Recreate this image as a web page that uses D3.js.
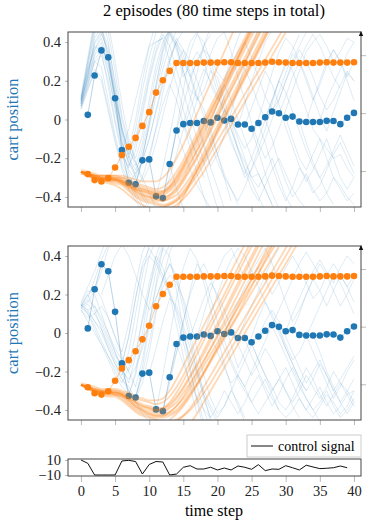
<!DOCTYPE html>
<html>
<head>
<meta charset="utf-8">
<script src="https://cdn.jsdelivr.net/npm/d3@7"></script>
<style>
body { margin: 0; background: #fff; }
svg, svg text { font-family: "Liberation Serif", "DejaVu Serif", serif; }
</style>
</head>
<body>
<script>
// observed cart positions (time steps 1..40)
const obsSteps = d3.range(1, 41);
const cartEp1 = [0.024, 0.227, 0.357, 0.321, 0.110, -0.158, -0.327, -0.335, -0.211, -0.206,
    -0.397, -0.406, -0.230, -0.057, -0.024, -0.018, -0.018, -0.008, -0.015, 0.009,
    -0.005, 0.003, -0.026, -0.026, -0.048, -0.018, 0.012, 0.041, 0.032, 0.009,
    0.015, -0.010, -0.013, -0.013, -0.013, -0.007, -0.008, -0.024, 0.009, 0.034];
const cartEp2 = [-0.282, -0.313, -0.320, -0.303, -0.248, -0.184, -0.141, -0.095, -0.033, 0.038,
    0.139, 0.203, 0.251, 0.292, 0.292, 0.292, 0.292, 0.294, 0.294, 0.294,
    0.296, 0.296, 0.292, 0.292, 0.292, 0.292, 0.294, 0.298, 0.296, 0.294,
    0.292, 0.292, 0.292, 0.292, 0.294, 0.296, 0.294, 0.294, 0.294, 0.296];

// control signal (time steps 0..39)
const controlSteps = d3.range(0, 40);
const controlSignal = [10, 5.6, -10, -10, -10, -10, 8.7, 9.5, 8, -8.7,
    4, 8, 7.3, -10, -8.7, 0.3, 2.4, -2, -2, 0.3,
    -3.3, -0.7, -3.3, 2, 0.3, -2.4, 3.8, -4.2, -2, -2.4,
    2.4, -0.3, -3.3, 3, 0.7, -1.5, -1, -0.3, 2, -0.3];

const xTicks = [0, 5, 10, 15, 20, 25, 30, 35, 40];
const yTicks = [-0.4, -0.2, 0, 0.2, 0.4];
const rightTicks = [-1, 0, 1];
const controlTicks = [-10, 10];

// predicted rollouts: [start step, values...]
const top1Blue = [
    [0, [0.06,0.18,0.30,0.27,0.10,-0.08,-0.22,-0.30,-0.38,-0.44,-0.5]],
    [0, [0.08,0.24,0.38,0.35,0.17,-0.02,-0.18,-0.25,-0.12,0.05,0.22,0.36,0.46,0.5]],
    [0, [0.10,0.28,0.46,0.50,0.32,0.12,-0.08,-0.20,-0.05,0.15,0.32,0.45,0.55]],
    [0, [0.07,0.20,0.34,0.40,0.25,0.05,-0.14,-0.28,-0.36,-0.30,-0.18,-0.05,0.08,0.18,0.1,-0.02,-0.15,-0.28,-0.4,-0.5]],
    [0, [0.12,0.32,0.52,0.55,0.40,0.18,-0.05,-0.18,-0.10,0.08,0.25,0.40,0.42,0.30,0.18,0.05,-0.08,-0.2,-0.3]],
    [0, [0.05,0.15,0.26,0.22,0.06,-0.10,-0.24,-0.33,-0.28,-0.15,0.0,0.18,0.35,0.45,0.38,0.25,0.15,0.12,0.05,-0.05,-0.18,-0.3,-0.42]],
    [0, [0.09,0.22,0.42,0.48,0.30,0.08,-0.12,-0.22,-0.30,-0.20,-0.02,0.16,0.30,0.44,0.36,0.22,0.28,0.35,0.30,0.18,0.1,0.2,0.32,0.42,0.5]],
    [0, [0.11,0.26,0.36,0.44,0.36,0.15,-0.06,-0.16,0.0,0.2,0.38,0.5]],
    [0, [0.07,0.17,0.30,0.33,0.20,0.0,-0.16,-0.26,-0.32,-0.40,-0.46]],
    [0, [0.10,0.30,0.48,0.52,0.45,0.25,0.02,-0.12,-0.20,-0.08,0.10,0.28,0.40,0.46,0.40,0.3,0.22,0.3,0.38,0.44]],
    [0, [0.08,0.21,0.33,0.38,0.28,0.10,-0.10,-0.24,-0.16,0.02,0.20,0.34,0.44,0.38,0.26,0.14,0.02,-0.1,-0.22,-0.34,-0.46]],
    [0, [0.09,0.27,0.44,0.58,0.50,0.30,0.08,-0.10,-0.22,-0.32,-0.24,-0.12,0.02,0.16,0.28,0.36,0.30,0.2,0.1]],
    [0, [0.06,0.16,0.24,0.20,0.04,-0.12,-0.26,-0.36,-0.42,-0.48]],
    [0, [0.11,0.30,0.50,0.60]],
    [0, [0.08,0.22,0.36,0.42,0.30,0.12,-0.06,-0.20,-0.26,-0.18,-0.04,0.12,0.26,0.38,0.46]],
    [0, [0.10,0.25,0.40,0.46,0.38,0.20,0.00,-0.14,-0.24,-0.12,0.06,0.24,0.38,0.48]],
    [0, [0.07,0.19,0.31,0.36,0.24,0.06,-0.12,-0.22,-0.28,-0.22,-0.10,0.04,0.18,0.30,0.40,0.46]],
    [0, [0.09,0.23,0.39,0.45,0.34,0.14,-0.04,-0.16,-0.22,-0.30,-0.38,-0.46]],
    [5, [0.11,-0.04,-0.18,-0.30,-0.38,-0.44]],
    [6, [-0.16,-0.05,0.10,0.25,0.38,0.40,0.42,0.45,0.38,0.25,0.12,0.0,-0.12,-0.25,-0.35,-0.46]],
    [7, [-0.327,-0.40,-0.46]],
    [8, [-0.335,-0.20,-0.02,0.18,0.36,0.46]],
    [9, [-0.21,-0.10,0.05,0.20,0.32,0.40,0.33,0.22,0.10,0.15,0.25,0.22,0.10,-0.02,-0.15,-0.25,-0.32,-0.40,-0.47]],
    [10, [-0.21,-0.04,0.14,0.30,0.42,0.36,0.24,0.12,0.02,-0.08,-0.18,-0.28,-0.36,-0.44]],
    [11, [-0.40,-0.25,-0.08,0.10,0.28,0.40,0.45,0.36,0.26,0.14,0.02,-0.1,-0.2,-0.3,-0.26,-0.18,-0.1,0.0,0.1,0.2,0.28,0.36,0.3,0.22,0.12,0.05,0.1,0.18,0.25,0.2]],
    [12, [-0.40,-0.30,-0.18,-0.05,0.05,0.16,0.26,0.20,0.12,0.05,-0.05,-0.16,-0.26,-0.36,-0.42,-0.34,-0.26,-0.2,-0.28,-0.36,-0.42,-0.46]],
    [13, [-0.23,-0.05,0.15,0.35,0.44,0.40,0.30,0.18,0.06,-0.05,-0.15,-0.22,-0.30,-0.28,-0.36,-0.44,-0.5]],
    [13, [-0.23,-0.36,-0.46]],
    [14, [-0.06,0.08,0.20,0.30,0.36,0.32,0.24,0.20,0.28,0.35,0.40,0.32,0.22,0.12,0.05,0.10,0.2,0.3,0.38,0.45]],
    [14, [-0.06,-0.16,-0.26,-0.34,-0.40,-0.46]],
    [15, [-0.02,-0.10,-0.18,-0.22,-0.15,-0.05,0.05,0.0,-0.1,-0.2,-0.3,-0.35,-0.28,-0.2,-0.3,-0.4,-0.46]],
    [15, [-0.02,0.10,0.24,0.38,0.48]],
    [16, [-0.02,0.10,0.22,0.34,0.42,0.45,0.35,0.22,0.10,-0.02,-0.12,-0.2,-0.14,-0.05,0.05,0.15,0.25,0.35,0.4,0.44,0.38,0.3,0.35,0.42,0.40]],
    [17, [-0.02,-0.14,-0.24,-0.18,-0.08,0.04,0.16,0.28,0.38,0.46]],
    [18, [-0.01,-0.12,-0.22,-0.30,-0.36,-0.42,-0.35,-0.25,-0.15,-0.05,0.08,0.2,0.3,0.25,0.15,0.05,-0.05,-0.1,-0.15,-0.2,-0.18,-0.25,-0.3]],
    [19, [-0.02,0.08,0.18,0.10,0.0,-0.10,-0.20,-0.28,-0.36,-0.44]],
    [20, [0.01,0.12,0.22,0.30,0.26,0.18,0.08,0.0,-0.10,-0.22,-0.32,-0.40,-0.35,-0.28,-0.36,-0.42,-0.38,-0.3,-0.34,-0.4,-0.44]],
    [21, [-0.01,-0.12,-0.20,-0.28,-0.20,-0.10,0.0,0.10,0.20,0.28,0.36,0.44]],
    [22, [0.0,-0.08,-0.15,-0.10,0.0,0.12,0.24,0.35,0.42,0.38,0.3,0.2,0.1,0.18,0.28,0.36,0.3,0.22,0.3]],
    [23, [-0.03,0.08,0.20,0.30,0.40,0.46]],
    [24, [-0.03,0.06,0.16,0.25,0.18,0.08,-0.04,-0.14,-0.24,-0.32,-0.26,-0.18,-0.1,-0.2,-0.3,-0.36,-0.3]],
    [25, [-0.05,-0.16,-0.28,-0.38,-0.46]],
    [26, [-0.02,-0.12,-0.24,-0.34,-0.42,-0.35,-0.25,-0.3,-0.38,-0.34,-0.26,-0.18,-0.12,-0.2,-0.28]],
    [27, [0.01,0.10,0.20,0.14,0.04,-0.06,-0.16,-0.24,-0.30,-0.38,-0.44]],
    [28, [0.04,0.14,0.24,0.34,0.30,0.22,0.12,0.02,-0.06,0.04,0.14,0.24,0.2]],
    [29, [0.03,0.12,0.22,0.30,0.38,0.44,0.38,0.30,0.22,0.16]],
    [30, [0.01,-0.1,-0.2,-0.26,-0.18,-0.1,-0.2,-0.3,-0.36,-0.42,-0.38]],
    [32, [-0.01,-0.12,-0.22,-0.30,-0.24,-0.16,-0.08,-0.16,-0.24]],
    [33, [-0.01,0.1,0.2,0.3,0.36,0.3,0.2,0.1]],
    [35, [-0.01,0.10,0.18,0.26,0.34,0.40]]
];

const top1Orange = [
    [0, [-0.27,-0.28,-0.29,-0.30,-0.30,-0.30,-0.31,-0.33,-0.35,-0.36,-0.37,-0.38,-0.38,-0.36,-0.32,-0.26,-0.20,-0.13,-0.06,0.01,0.08,0.15,0.22,0.29,0.36,0.43,0.50]],
    [0, [-0.27,-0.28,-0.30,-0.31,-0.31,-0.31,-0.32,-0.34,-0.36,-0.38,-0.39,-0.40,-0.40,-0.39,-0.36,-0.31,-0.25,-0.19,-0.12,-0.05,0.02,0.09,0.16,0.23,0.30,0.37,0.44,0.51]],
    [0, [-0.27,-0.28,-0.29,-0.29,-0.29,-0.29,-0.30,-0.31,-0.33,-0.34,-0.35,-0.36,-0.35,-0.32,-0.27,-0.21,-0.14,-0.07,0.00,0.07,0.14,0.21,0.28,0.35,0.42,0.49]],
    [0, [-0.27,-0.29,-0.30,-0.31,-0.32,-0.32,-0.33,-0.36,-0.39,-0.41,-0.42,-0.43,-0.44,-0.43,-0.41,-0.37,-0.32,-0.26,-0.20,-0.13,-0.06,0.01,0.08,0.15,0.22,0.29,0.36,0.43,0.50]],
    [0, [-0.27,-0.28,-0.29,-0.30,-0.30,-0.31,-0.32,-0.34,-0.36,-0.37,-0.38,-0.39,-0.39,-0.37,-0.33,-0.28,-0.22,-0.16,-0.10,-0.03,0.04,0.11,0.18,0.25,0.32,0.39,0.46]],
    [0, [-0.26,-0.27,-0.28,-0.29,-0.29,-0.30,-0.30,-0.32,-0.34,-0.35,-0.36,-0.37,-0.37,-0.35,-0.31,-0.25,-0.18,-0.11,-0.04,0.03,0.10,0.17,0.24,0.31,0.38,0.45]],
    [0, [-0.27,-0.28,-0.30,-0.30,-0.31,-0.31,-0.33,-0.35,-0.37,-0.39,-0.40,-0.41,-0.42,-0.41,-0.39,-0.35,-0.30,-0.24,-0.17,-0.10,-0.03,0.04,0.11,0.18,0.25,0.32,0.39,0.46]],
    [0, [-0.28,-0.29,-0.30,-0.31,-0.31,-0.31,-0.32,-0.34,-0.37,-0.39,-0.40,-0.41,-0.41,-0.39,-0.35,-0.30,-0.23,-0.16,-0.08,0.00,0.08,0.16,0.24,0.32,0.40,0.48]],
    [0, [-0.27,-0.29,-0.31,-0.32,-0.33,-0.34,-0.36,-0.39,-0.42,-0.44,-0.46,-0.47,-0.47,-0.46,-0.44,-0.41,-0.37,-0.32,-0.27,-0.21,-0.15,-0.09,-0.03,0.03,0.09,0.15,0.21,0.27,0.33,0.39,0.45]],
    [0, [-0.27,-0.28,-0.29,-0.29,-0.29,-0.29,-0.29,-0.30,-0.31,-0.32,-0.32,-0.32,-0.30,-0.26,-0.20,-0.13,-0.05,0.03,0.11,0.19,0.27,0.35,0.43,0.51]],
    [0, [-0.27,-0.28,-0.29,-0.30,-0.31,-0.31,-0.32,-0.34,-0.36,-0.37,-0.38,-0.39,-0.38,-0.35,-0.30,-0.24,-0.17,-0.10,-0.03,0.04,0.11,0.18,0.25,0.32,0.39,0.46]],
    [0, [-0.27,-0.28,-0.30,-0.31,-0.32,-0.33,-0.34,-0.37,-0.40,-0.42,-0.43,-0.44,-0.45,-0.44,-0.42,-0.39,-0.34,-0.29,-0.23,-0.17,-0.11,-0.05,0.01,0.07,0.13,0.19,0.25,0.31,0.37,0.43,0.49]],
    [0, [-0.27,-0.28,-0.29,-0.30,-0.30,-0.30,-0.31,-0.33,-0.35,-0.36,-0.37,-0.38,-0.37,-0.34,-0.29,-0.23,-0.16,-0.09,-0.02,0.05,0.12,0.19,0.26,0.33,0.40,0.47]],
    [0, [-0.28,-0.29,-0.30,-0.31,-0.31,-0.32,-0.33,-0.35,-0.38,-0.40,-0.41,-0.42,-0.42,-0.40,-0.37,-0.32,-0.26,-0.20,-0.13,-0.06,0.01,0.08,0.15,0.22,0.29,0.36,0.43,0.50]],
    [12, [-0.45,-0.44,-0.42,-0.38,-0.33,-0.27,-0.21,-0.14,-0.07,0.0,0.07,0.14,0.21,0.28,0.35,0.42,0.49]],
    [14, [-0.46,-0.40,-0.33,-0.26,-0.19,-0.12,-0.05,0.02,0.09,0.16,0.23,0.30,0.37,0.44,0.51]]
];

const top2Blue = [
    [0, [0.14,0.20,0.12,0.02,-0.08,-0.16,-0.22,-0.10,0.10,0.30,0.46]],
    [0, [0.13,0.10,0.04,-0.04,-0.12,-0.20,-0.26,-0.18,0.00,0.22,0.40,0.48]],
    [0, [0.15,0.22,0.20,0.10,0.00,-0.10,-0.20,-0.30,-0.36,-0.40,-0.44,-0.48]],
    [0, [0.12,0.06,0.00,-0.06,-0.14,-0.22,-0.28,-0.32,-0.22,-0.05,0.15,0.32,0.44,0.40,0.22,0.02,-0.18,-0.36,-0.5]],
    [0, [0.16,0.24,0.32,0.42,0.5]],
    [0, [0.14,0.18,0.28,0.38,0.46]],
    [0, [0.14,0.16,0.22,0.32,0.44,0.5]],
    [0, [0.13,0.15,0.10,0.04,-0.04,-0.12,-0.16,-0.02,0.18,0.36,0.44,0.38,0.30,0.22,0.10,-0.05,-0.2,-0.34,-0.46]],
    [0, [0.12,0.08,0.10,0.14,0.08,-0.02,-0.12,-0.20,-0.28,-0.14,0.06,0.24,0.38,0.46]],
    [0, [0.15,0.12,0.06,0.02,-0.06,-0.14,-0.20,-0.24,-0.18,-0.08,0.05,0.18,0.28,0.36,0.28,0.12,-0.04,-0.2,-0.34,-0.44]],
    [0, [0.14,0.20,0.24,0.18,0.08,-0.02,-0.10,0.05,0.25,0.42,0.5]],
    [0, [0.13,0.17,0.14,0.06,-0.02,-0.10,-0.18,-0.26,-0.12,0.08,0.26,0.40,0.34,0.20,0.04,-0.12,-0.28,-0.42]],
    [0, [0.15,0.10,0.02,-0.06,-0.12,-0.18,-0.24,-0.28,-0.34,-0.26,-0.10,0.10,0.28,0.42,0.5]],
    [0, [0.13,0.11,0.06,0.0,-0.08,-0.16,-0.24,-0.30,-0.36,-0.42,-0.46]],
    [0, [0.14,0.12,0.14,0.08,0.0,-0.08,-0.14,-0.20,-0.10,0.06,0.22,0.36,0.46]],
    [3, [0.2,0.30,0.40,0.46,0.40,0.30,0.2,0.12,0.18,0.28,0.36,0.30,0.16,0.0,-0.16,-0.32,-0.46]],
    [6, [-0.16,-0.02,0.18,0.34,0.40,0.36,0.28,0.20,0.12,0.0,-0.14,-0.28,-0.4,-0.5]],
    [7, [-0.327,-0.20,0.0,0.22,0.40,0.5]],
    [8, [-0.335,-0.18,0.04,0.26,0.44,0.5]],
    [9, [-0.21,-0.05,0.12,0.24,0.30,0.26,0.18,0.06,-0.08,-0.22,-0.34,-0.42,-0.38,-0.30,-0.36,-0.44]],
    [10, [-0.21,-0.08,0.06,0.18,0.14,0.04,-0.08,-0.20,-0.30,-0.38,-0.44,-0.38,-0.30,-0.22,-0.28,-0.36,-0.30,-0.24,-0.32,-0.4]],
    [11, [-0.40,-0.22,-0.02,0.18,0.34,0.44,0.38,0.26,0.12,-0.02,-0.16,-0.28,-0.38,-0.46]],
    [12, [-0.40,-0.26,-0.10,0.06,0.20,0.30,0.36,0.28,0.18,0.06,-0.06,-0.18,-0.1,-0.02,0.08,0.16,0.1,0.02,-0.08,-0.16,-0.24,-0.3,-0.24,-0.16,-0.22,-0.3,-0.36,-0.42,-0.36]],
    [13, [-0.23,-0.10,0.06,0.22,0.36,0.30,0.18,0.06,-0.04,-0.14,-0.22,-0.28,-0.20,-0.12,-0.04,0.04,0.12,0.2,0.28,0.36,0.42,0.36,0.3]],
    [14, [-0.06,-0.16,-0.26,-0.34,-0.40,-0.44,-0.38,-0.30,-0.36,-0.42,-0.36,-0.28,-0.22,-0.30,-0.38,-0.32,-0.24,-0.18,-0.26,-0.34,-0.40,-0.36,-0.3,-0.38,-0.44,-0.40,-0.34]],
    [15, [-0.02,-0.12,-0.22,-0.32,-0.40,-0.46]],
    [16, [-0.02,0.08,0.18,0.26,0.20,0.12,0.02,-0.06,-0.14,-0.22,-0.16,-0.08,-0.14,-0.22,-0.30,-0.36,-0.30,-0.22,-0.28,-0.34,-0.28,-0.2,-0.26,-0.32,-0.38]],
    [17, [-0.02,0.10,0.22,0.32,0.40,0.44,0.36,0.28,0.32,0.38,0.44,0.36,0.26,0.16,0.06,0.12,0.2,0.28,0.22,0.14,0.22,0.3,0.24,0.3]],
    [18, [-0.01,0.10,0.20,0.30,0.38,0.44,0.4,0.32,0.24,0.16,0.08,0.0,-0.08,-0.16,-0.24,-0.3]],
    [19, [-0.02,-0.10,-0.18,-0.26,-0.22,-0.14,-0.06,-0.14,-0.22,-0.28,-0.36,-0.40,-0.34,-0.26,-0.18,-0.24,-0.32,-0.38,-0.32,-0.26,-0.3,-0.36]],
    [20, [0.01,-0.08,-0.16,-0.24,-0.30,-0.36,-0.42,-0.36,-0.3,-0.24,-0.3,-0.38,-0.44]],
    [21, [-0.01,0.08,0.16,0.24,0.30,0.34,0.28,0.20,0.26,0.34,0.40,0.34,0.26,0.18,0.22,0.3,0.36,0.3,0.24,0.16]],
    [23, [-0.03,0.06,0.14,0.22,0.30,0.38,0.44]],
    [24, [-0.03,-0.12,-0.20,-0.28,-0.34,-0.40,-0.44,-0.40,-0.34,-0.40,-0.44,-0.38,-0.32,-0.36,-0.42,-0.38,-0.3]],
    [25, [-0.05,-0.14,-0.22,-0.30,-0.24,-0.18,-0.26,-0.34,-0.40,-0.34,-0.28,-0.36,-0.42,-0.38,-0.32,-0.3]],
    [26, [-0.02,0.06,0.12,0.06,-0.02,-0.10,-0.18,-0.26,-0.20,-0.14,-0.22,-0.30,-0.24,-0.18,-0.12]],
    [28, [0.04,-0.04,-0.12,-0.20,-0.28,-0.34,-0.40,-0.46]],
    [29, [0.03,-0.06,-0.14,-0.10,-0.02,0.06,0.14,0.22,0.30,0.26,0.18,0.1]],
    [30, [0.01,0.10,0.18,0.26,0.32,0.38,0.32,0.26,0.34,0.4,0.36]],
    [31, [0.02,0.10,0.20,0.28,0.36,0.30,0.22,0.14,0.2,0.28]],
    [33, [-0.01,-0.10,-0.18,-0.26,-0.34,-0.28,-0.2,-0.14]],
    [34, [-0.01,-0.10,-0.20,-0.28,-0.36,-0.30,-0.24]]
];

const top2Orange = [
    [0, [-0.27,-0.28,-0.30,-0.31,-0.31,-0.31,-0.32,-0.34,-0.36,-0.38,-0.39,-0.40,-0.40,-0.38,-0.34,-0.29,-0.23,-0.17,-0.11,-0.04,0.03,0.10,0.17,0.24,0.31,0.38,0.45,0.52]],
    [0, [-0.27,-0.28,-0.29,-0.30,-0.30,-0.30,-0.31,-0.33,-0.35,-0.37,-0.38,-0.39,-0.39,-0.36,-0.31,-0.25,-0.18,-0.11,-0.04,0.03,0.10,0.17,0.24,0.31,0.38,0.45]],
    [0, [-0.27,-0.29,-0.30,-0.31,-0.32,-0.32,-0.33,-0.36,-0.39,-0.41,-0.42,-0.43,-0.43,-0.42,-0.40,-0.36,-0.31,-0.26,-0.20,-0.14,-0.08,-0.02,0.04,0.10,0.17,0.24,0.31,0.38,0.45]],
    [0, [-0.27,-0.28,-0.30,-0.31,-0.31,-0.31,-0.32,-0.35,-0.38,-0.40,-0.41,-0.42,-0.42,-0.41,-0.38,-0.33,-0.27,-0.21,-0.15,-0.08,-0.01,0.06,0.13,0.20,0.27,0.34,0.41,0.48]],
    [0, [-0.26,-0.27,-0.28,-0.29,-0.29,-0.29,-0.30,-0.31,-0.33,-0.34,-0.35,-0.35,-0.34,-0.30,-0.24,-0.17,-0.10,-0.03,0.04,0.11,0.18,0.25,0.32,0.39,0.46]],
    [0, [-0.27,-0.29,-0.31,-0.32,-0.33,-0.33,-0.35,-0.38,-0.41,-0.43,-0.44,-0.45,-0.46,-0.46,-0.45,-0.43,-0.40,-0.36,-0.31,-0.26,-0.20,-0.14,-0.08,-0.02,0.04,0.10,0.16,0.22,0.28,0.34,0.40,0.46]],
    [0, [-0.27,-0.28,-0.30,-0.30,-0.31,-0.31,-0.32,-0.34,-0.37,-0.39,-0.40,-0.41,-0.41,-0.39,-0.36,-0.31,-0.26,-0.20,-0.14,-0.08,-0.02,0.04,0.10,0.16,0.22,0.28,0.34,0.40,0.46]],
    [0, [-0.27,-0.28,-0.29,-0.30,-0.30,-0.30,-0.31,-0.32,-0.34,-0.35,-0.36,-0.37,-0.36,-0.33,-0.28,-0.22,-0.15,-0.08,-0.01,0.06,0.13,0.20,0.27,0.34,0.41,0.48]],
    [0, [-0.27,-0.28,-0.30,-0.31,-0.32,-0.32,-0.34,-0.37,-0.40,-0.42,-0.43,-0.44,-0.44,-0.43,-0.41,-0.37,-0.32,-0.27,-0.21,-0.15,-0.09,-0.03,0.03,0.09,0.15,0.21,0.27,0.33,0.39,0.45]],
    [0, [-0.27,-0.28,-0.29,-0.30,-0.31,-0.31,-0.32,-0.34,-0.36,-0.38,-0.39,-0.40,-0.39,-0.37,-0.33,-0.28,-0.22,-0.16,-0.09,-0.02,0.05,0.12,0.19,0.26,0.33,0.40,0.47]],
    [0, [-0.27,-0.29,-0.30,-0.31,-0.31,-0.32,-0.33,-0.35,-0.38,-0.40,-0.42,-0.43,-0.43,-0.41,-0.38,-0.34,-0.29,-0.23,-0.17,-0.11,-0.05,0.01,0.07,0.13,0.19,0.25,0.31,0.37,0.43,0.49]],
    [13, [-0.45,-0.42,-0.38,-0.33,-0.27,-0.21,-0.14,-0.07,0.00,0.07,0.14,0.21,0.28,0.35,0.42,0.49]],
    [14, [-0.46,-0.43,-0.39,-0.34,-0.28,-0.22,-0.16,-0.10,-0.04,0.02,0.08,0.14,0.20,0.26,0.32,0.38,0.44,0.5]],
    [16, [-0.47,-0.42,-0.36,-0.30,-0.24,-0.18,-0.12,-0.06,0.00,0.06,0.12,0.18,0.24,0.30,0.36,0.42,0.48]]
];

const blue = "#1f77b4", orange = "#ff7f0e";
const serif = "'Liberation Serif', 'DejaVu Serif', serif";

const width = 376, height = 525;
const svg = d3.select("body").append("svg")
    .attr("width", width)
    .attr("height", height)
    .attr("font-family", serif);

const x = d3.scaleLinear().domain([-1.9, 41.03]).range([68, 361]);

const panels = [
    {id: "p1", top: 32, bottom: 207, blueRuns: top1Blue, orangeRuns: top1Orange},
    {id: "p2", top: 246, bottom: 420, blueRuns: top2Blue, orangeRuns: top2Orange}
];

svg.append("text")
    .attr("x", 214)
    .attr("y", 16)
    .attr("text-anchor", "middle")
    .style("font-size", "16.5px")
    .text("2 episodes (80 time steps in total)");

function styleAxis(g) {
    g.attr("font-family", serif);
    g.select(".domain").remove();
    g.selectAll(".tick line").attr("stroke", "#bbb");
    g.selectAll(".tick text")
        .attr("fill", "#222")
        .attr("font-family", serif)
        .style("font-size", "14.5px");
}

const toPoints = run => run[1].map((v, i) => [run[0] + i, v]);

panels.forEach(p => {
    const y = d3.scaleLinear().domain([-0.452, 0.452]).range([p.bottom, p.top]);
    const yR = d3.scaleLinear().domain([-1.62, 1.40]).range([p.bottom, p.top]);

    svg.append("clipPath").attr("id", "clip-" + p.id)
        .append("rect")
        .attr("x", x.range()[0]).attr("y", p.top)
        .attr("width", x.range()[1] - x.range()[0])
        .attr("height", p.bottom - p.top);

    // axes
    svg.append("g")
        .attr("transform", "translate(" + x.range()[0] + ",0)")
        .call(d3.axisLeft(y).tickValues(yTicks).tickSize(3).tickPadding(4)
            .tickFormat(d => d === 0 ? "0" : d3.format(".1f")(d)))
        .call(styleAxis);

    svg.append("g")
        .attr("transform", "translate(0," + p.bottom + ")")
        .call(d3.axisBottom(x).tickValues(xTicks).tickSize(5).tickFormat(""))
        .call(styleAxis);

    svg.append("g")
        .attr("transform", "translate(" + x.range()[1] + ",0)")
        .call(d3.axisRight(yR).tickValues(rightTicks).tickSize(5).tickFormat(""))
        .call(styleAxis);

    svg.append("text")
        .attr("transform", "translate(18," + (p.top + p.bottom) / 2 + ") rotate(-90)")
        .attr("text-anchor", "middle")
        .style("font-size", "16.5px")
        .attr("fill", blue)
        .text("cart position");

    const plot = svg.append("g").attr("clip-path", "url(#clip-" + p.id + ")");

    const line = d3.line()
        .x(d => x(d[0]))
        .y(d => y(d[1]));
    const smooth = d3.line()
        .x(d => x(d[0]))
        .y(d => y(d[1]))
        .curve(d3.curveMonotoneX);

    plot.selectAll(".blue-run")
        .data(p.blueRuns)
        .enter().append("path")
        .attr("class", "blue-run")
        .attr("d", d => line(toPoints(d)))
        .attr("fill", "none")
        .attr("stroke", blue)
        .attr("stroke-opacity", 0.17)
        .attr("stroke-width", 0.9);

    const ep1 = obsSteps.map((t, i) => [t, cartEp1[i]]);
    const ep2 = obsSteps.map((t, i) => [t, cartEp2[i]]);

    plot.append("path")
        .attr("d", line(ep1))
        .attr("fill", "none")
        .attr("stroke", blue)
        .attr("stroke-opacity", 0.45)
        .attr("stroke-width", 0.7);

    plot.selectAll(".dot1")
        .data(ep1)
        .enter().append("circle")
        .attr("class", "dot1")
        .attr("cx", d => x(d[0]))
        .attr("cy", d => y(d[1]))
        .attr("r", 3.3)
        .attr("fill", blue);

    plot.selectAll(".orange-run")
        .data(p.orangeRuns)
        .enter().append("path")
        .attr("class", "orange-run")
        .attr("d", d => smooth(toPoints(d)))
        .attr("fill", "none")
        .attr("stroke", orange)
        .attr("stroke-opacity", 0.3)
        .attr("stroke-width", 1.8);

    plot.append("path")
        .attr("d", line(ep2))
        .attr("fill", "none")
        .attr("stroke", orange)
        .attr("stroke-opacity", 0.6)
        .attr("stroke-width", 0.7);

    plot.selectAll(".dot2")
        .data(ep2)
        .enter().append("circle")
        .attr("class", "dot2")
        .attr("cx", d => x(d[0]))
        .attr("cy", d => y(d[1]))
        .attr("r", 3.3)
        .attr("fill", orange);

    // frame + arrow
    svg.append("rect")
        .attr("x", x.range()[0]).attr("y", p.top)
        .attr("width", x.range()[1] - x.range()[0])
        .attr("height", p.bottom - p.top)
        .attr("fill", "none")
        .attr("stroke", "#444")
        .attr("stroke-width", 1);

    const ax = x.range()[1];
    svg.append("path")
        .attr("d", "M" + (ax - 2.2) + "," + (p.top + 4) + "L" + ax + "," + (p.top - 1) + "L" + (ax + 2.2) + "," + (p.top + 4) + "Z")
        .attr("fill", "#111");
});

// control signal panel
const cTop = 459, cBottom = 476;
const yc = d3.scaleLinear().domain([-11.33, 11.33]).range([cBottom, cTop]);

svg.append("g")
    .attr("transform", "translate(" + x.range()[0] + ",0)")
    .call(d3.axisLeft(yc).tickValues(controlTicks).tickSize(3).tickPadding(4))
    .call(styleAxis);

svg.append("g")
    .attr("transform", "translate(0," + cBottom + ")")
    .call(d3.axisBottom(x).tickValues(xTicks).tickSize(6).tickPadding(4))
    .call(styleAxis);

svg.append("path")
    .datum(controlSteps.map((t, i) => [t, controlSignal[i]]))
    .attr("d", d3.line().x(d => x(d[0])).y(d => yc(d[1])))
    .attr("fill", "none")
    .attr("stroke", "#111")
    .attr("stroke-width", 1);

svg.append("rect")
    .attr("x", x.range()[0]).attr("y", cTop)
    .attr("width", x.range()[1] - x.range()[0])
    .attr("height", cBottom - cTop)
    .attr("fill", "none")
    .attr("stroke", "#444")
    .attr("stroke-width", 1);

svg.append("text")
    .attr("x", 214)
    .attr("y", 516)
    .attr("text-anchor", "middle")
    .style("font-size", "16px")
    .text("time step");

// legend
const legend = svg.append("g").attr("transform", "translate(247,435)");
legend.append("rect")
    .attr("width", 114).attr("height", 22)
    .attr("fill", "#fff")
    .attr("stroke", "#ccc");
legend.append("line")
    .attr("x1", 4).attr("x2", 26)
    .attr("y1", 11).attr("y2", 11)
    .attr("stroke", "#111");
legend.append("text")
    .attr("x", 31).attr("y", 15.5)
    .style("font-size", "14px")
    .text("control signal");
</script>
</body>
</html>
